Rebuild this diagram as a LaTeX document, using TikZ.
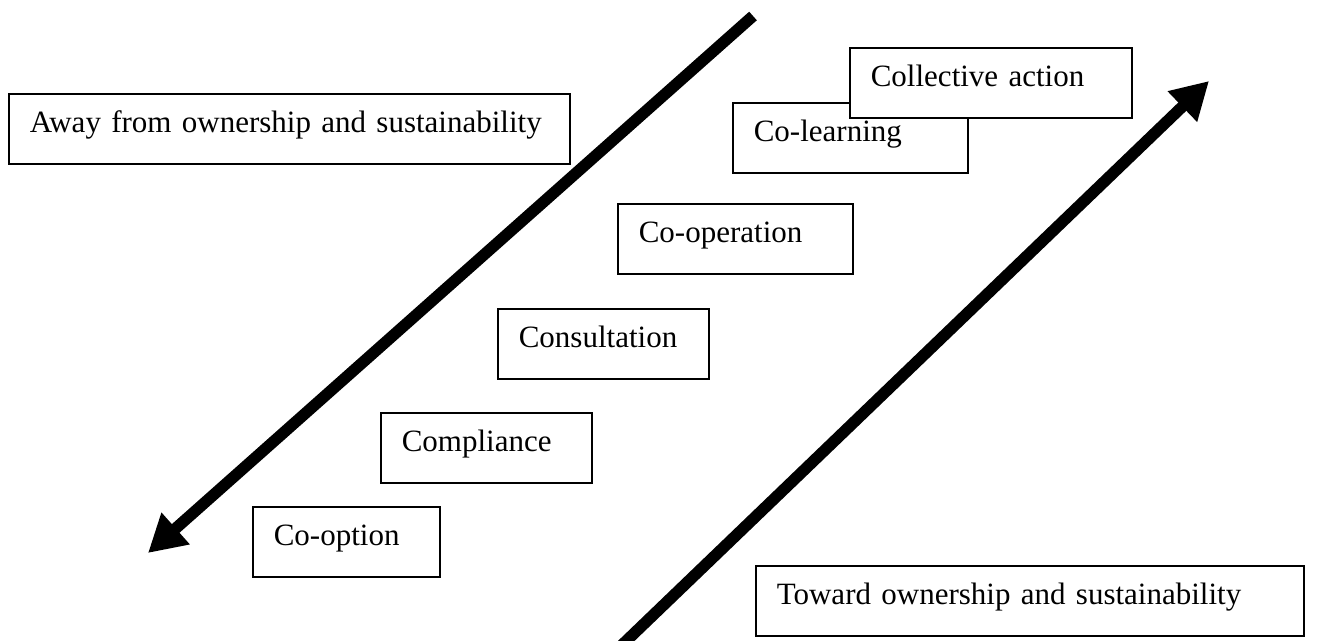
\documentclass[tikz,border=0pt]{standalone}
\usepackage{fontspec}
\setmainfont{Liberation Serif}
\usetikzlibrary{arrows.meta}

\begin{document}
\begin{tikzpicture}
% Style
[
    x=0.5pt, y=-0.5pt,
    font=\fontsize{15.5}{18}\selectfont,
    stage/.style={
        draw, line width=0.8pt, fill=white, anchor=north west, align=left,
        inner xsep=10.5pt, inner ysep=0pt, text height=19.5pt, text depth=15.5pt,
        text width=#1
    },
    bigarrow/.style={
        line width=5.75pt, -{Triangle[length=18.5pt, width=20pt]}
    }
]

%=================================== Start ===================================
{
    \useasboundingbox (0,0) rectangle (1317,641);

    % ends of the two arrows
    \coordinate (away-start)   at (753,16);
    \coordinate (away-end)     at (148,553);
    \coordinate (toward-start) at (622,645);
    \coordinate (toward-end)   at (1209,81);

    \draw[bigarrow] (away-start) -- (away-end);
    \draw[bigarrow] (toward-start) -- (toward-end);

    % the ladder of stages
    \node[stage=72.5pt]  (cooption)     at (252,506) {Co-option};
    \node[stage=84.5pt]  (compliance)   at (380,412) {Compliance};
    \node[stage=84.5pt]  (consultation) at (497,308) {Consultation};
    \node[stage=96.5pt]  (cooperation)  at (617,203) {Co-operation};
    \node[stage=96.5pt]  (colearning)   at (732,102) {Co-learning};
    \node[stage=120pt]   (collective)   at (849,47)  {Collective action};

    % the two directions
    \node[stage=259.5pt] (away)   at (8,93)    {Away from ownership and sustainability};
    \node[stage=253pt]   (toward) at (755,565) {Toward ownership and sustainability};
}
%==================================== END ====================================

\end{tikzpicture}
\end{document}
